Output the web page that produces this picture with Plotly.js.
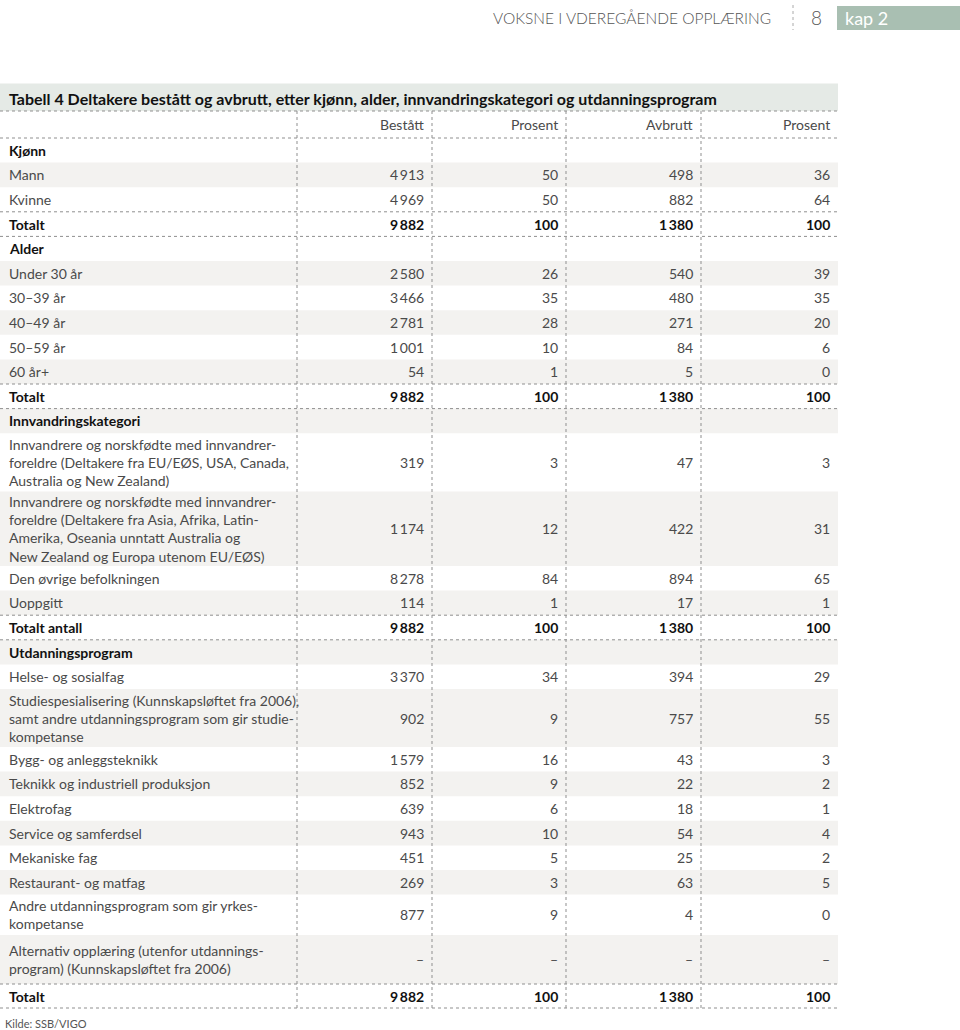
<!DOCTYPE html>
<html>
<head>
<meta charset="utf-8">
<script src="https://cdn.plot.ly/plotly-3.0.1.min.js"></script>
<style>html,body{margin:0;padding:0;background:#fff;}#chart{width:960px;height:1030px;}</style>
</head>
<body>
<div id="chart"></div>
<script>
// ---------- DATA ----------
var pageTitle = "VOKSNE I VDEREGÅENDE OPPLÆRING";
var pageNumber = "8";
var chapter = "kap 2";
var tableTitle = "Tabell 4 Deltakere bestått og avbrutt, etter kjønn, alder, innvandringskategori og utdanningsprogram";
var columnHeaders = ["Bestått", "Prosent", "Avbrutt", "Prosent"];
var source = "Kilde: SSB/VIGO";

var rowLabels = [
  "Kjønn", "Mann", "Kvinne", "Totalt",
  "Alder", "Under 30 år", "30–39 år", "40–49 år", "50–59 år", "60 år+", "Totalt",
  "Innvandringskategori",
  "Innvandrere og norskfødte med innvandrer-<br>foreldre (Deltakere fra EU/EØS, USA, Canada,<br>Australia og New Zealand)",
  "Innvandrere og norskfødte med innvandrer-<br>foreldre (Deltakere fra Asia, Afrika, Latin-<br>Amerika, Oseania unntatt Australia og<br>New Zealand og Europa utenom EU/EØS)",
  "Den øvrige befolkningen", "Uoppgitt", "Totalt antall",
  "Utdanningsprogram", "Helse- og sosialfag",
  "Studiespesialisering (Kunnskapsløftet fra 2006),<br>samt andre utdanningsprogram som gir studie-<br>kompetanse",
  "Bygg- og anleggsteknikk", "Teknikk og industriell produksjon", "Elektrofag",
  "Service og samferdsel", "Mekaniske fag", "Restaurant- og matfag",
  "Andre utdanningsprogram som gir yrkes-<br>kompetanse",
  "Alternativ opplæring (utenfor utdannings-<br>program) (Kunnskapsløftet fra 2006)",
  "Totalt"
];
// "" = empty cell (section heading), null = "–" (no data)
var bestatt    = ["", 4913, 4969, 9882, "", 2580, 3466, 2781, 1001, 54, 9882, "", 319, 1174, 8278, 114, 9882, "", 3370, 902, 1579, 852, 639, 943, 451, 269, 877, null, 9882];
var bestattPct = ["", 50, 50, 100, "", 26, 35, 28, 10, 1, 100, "", 3, 12, 84, 1, 100, "", 34, 9, 16, 9, 6, 10, 5, 3, 9, null, 100];
var avbrutt    = ["", 498, 882, 1380, "", 540, 480, 271, 84, 5, 1380, "", 47, 422, 894, 17, 1380, "", 394, 757, 43, 22, 18, 54, 25, 63, 4, null, 1380];
var avbruttPct = ["", 36, 64, 100, "", 39, 35, 20, 6, 0, 100, "", 3, 31, 65, 1, 100, "", 29, 55, 3, 2, 1, 4, 2, 5, 0, null, 100];
// row kind: s = section heading, i = item, t = total
var rowKind = ["s","i","i","t","s","i","i","i","i","i","t","s","i","i","i","i","t","s","i","i","i","i","i","i","i","i","i","i","t"];

// ---------- STYLE ----------
var rowShade = [0,1,0,0,0,1,0,1,0,1,0,1,0,1,0,1,0,1,0,1,0,1,0,1,0,1,0,1,0];
var rowHeight = [24.6,24.6,24.6,24.6,24.6,24.6,24.6,24.6,24.6,24.6,24.6,24.6,58.3,74.5,24.6,24.6,24.6,24.6,24.6,58,24.6,24.6,24.6,24.6,24.6,24.6,40.4,49,24];
var tableLeft = 0, tableRight = 838;
var colEdges = [297, 432, 566, 701, 838];
var titleTop = 83.5, headerTop = 111, headerBottom = 138;
var FONT = "Lato, 'Open Sans', sans-serif";
var txtColor = "#4a4a4a", boldColor = "#111111";
var lineColor = "#8f8f8f";
var shadeColor = "#f3f2f0", titleBand = "#e5eae6", chapColor = "#a9bfb2";

function fmt(v) {
  if (v === "") return "";
  if (v === null) return "–";
  var s = String(v);
  return s.replace(/\B(?=(\d{3})+(?!\d))/g, "\u2009");
}

var shapes = [], ann = [];
function hline(y) {
  shapes.push({type:"line", xref:"x", yref:"y", x0:tableLeft, x1:tableRight, y0:y, y1:y,
    line:{color:lineColor, width:1, dash:"dot"}, layer:"above"});
}

// title band
shapes.push({type:"rect", xref:"x", yref:"y", x0:tableLeft, x1:tableRight, y0:titleTop, y1:headerTop,
  fillcolor:titleBand, line:{width:0}, layer:"below"});
ann.push({xref:"x", yref:"y", x:7, y:(titleTop+headerTop)/2 + 1, text:tableTitle, showarrow:false,
  xanchor:"left", yanchor:"middle", font:{family:FONT, size:16, color:boldColor, weight:700}});

// header row
for (var c = 0; c < columnHeaders.length; c++) {
  ann.push({xref:"x", yref:"y", x:colEdges[c+1]-6, y:(headerTop+headerBottom)/2, text:columnHeaders[c],
    showarrow:false, xanchor:"right", yanchor:"middle", font:{family:FONT, size:14, color:txtColor}});
}
hline(headerTop);
hline(headerBottom);

// body rows
var cols = [bestatt, bestattPct, avbrutt, avbruttPct];
var y = headerBottom;
for (var r = 0; r < rowLabels.length; r++) {
  var h = rowHeight[r];
  var y0 = y, y1 = y + h, yc = (y0 + y1) / 2;
  if (rowShade[r]) {
    shapes.push({type:"rect", xref:"x", yref:"y", x0:tableLeft, x1:tableRight, y0:y0, y1:y1,
      fillcolor:shadeColor, line:{width:0}, layer:"below"});
  }
  var bold = rowKind[r] !== "i";
  var f = {family:FONT, size:14, color: bold ? boldColor : txtColor, weight: bold ? 700 : 400};
  ann.push({xref:"x", yref:"y", x:7, y:yc, text:rowLabels[r], showarrow:false,
    xanchor:"left", yanchor:"middle", align:"left", font:f});
  for (var c2 = 0; c2 < cols.length; c2++) {
    var t = fmt(cols[c2][r]);
    if (t === "") continue;
    ann.push({xref:"x", yref:"y", x:colEdges[c2+1]-6, y:yc, text:t, showarrow:false,
      xanchor:"right", yanchor:"middle", font:f});
  }
  if (rowKind[r] === "t") { hline(y0); hline(y1); }
  y = y1;
}
var tableBottom = y;

// vertical column separators
for (var k = 0; k < colEdges.length - 1; k++) {
  shapes.push({type:"line", xref:"x", yref:"y", x0:colEdges[k], x1:colEdges[k], y0:headerTop, y1:tableBottom,
    line:{color:lineColor, width:1, dash:"dot"}, layer:"above"});
}

// source
ann.push({xref:"x", yref:"y", x:3, y:1023, text:source, showarrow:false, xanchor:"left", yanchor:"middle",
  font:{family:FONT, size:11, color:"#555"}});

// page header
ann.push({xref:"x", yref:"y", x:773, y:18, text:pageTitle, showarrow:false, xanchor:"right", yanchor:"middle",
  font:{family:FONT, size:15.5, color:"#555", weight:300}});
shapes.push({type:"line", xref:"x", yref:"y", x0:793, x1:793, y0:5, y1:30, line:{color:"#aaa", width:1, dash:"dot"}});
ann.push({xref:"x", yref:"y", x:816, y:17, text:pageNumber, showarrow:false, xanchor:"center", yanchor:"middle",
  font:{family:FONT, size:19, color:"#555", weight:300}});
shapes.push({type:"rect", xref:"x", yref:"y", x0:837, x1:960, y0:6, y1:30, fillcolor:chapColor, line:{width:0}, layer:"below"});
ann.push({xref:"x", yref:"y", x:843, y:18, text:chapter, showarrow:false, xanchor:"left", yanchor:"middle",
  font:{family:FONT, size:18, color:"#ffffff", weight:400}});

var layout = {
  width:960, height:1030,
  margin:{l:0, r:0, t:0, b:0, pad:0},
  paper_bgcolor:"#ffffff", plot_bgcolor:"#ffffff",
  xaxis:{range:[0,960], visible:false, fixedrange:true},
  yaxis:{range:[1030,0], visible:false, fixedrange:true},
  showlegend:false,
  shapes:shapes, annotations:ann
};
Plotly.newPlot("chart", [], layout, {staticPlot:true, displayModeBar:false});
</script>
</body>
</html>
